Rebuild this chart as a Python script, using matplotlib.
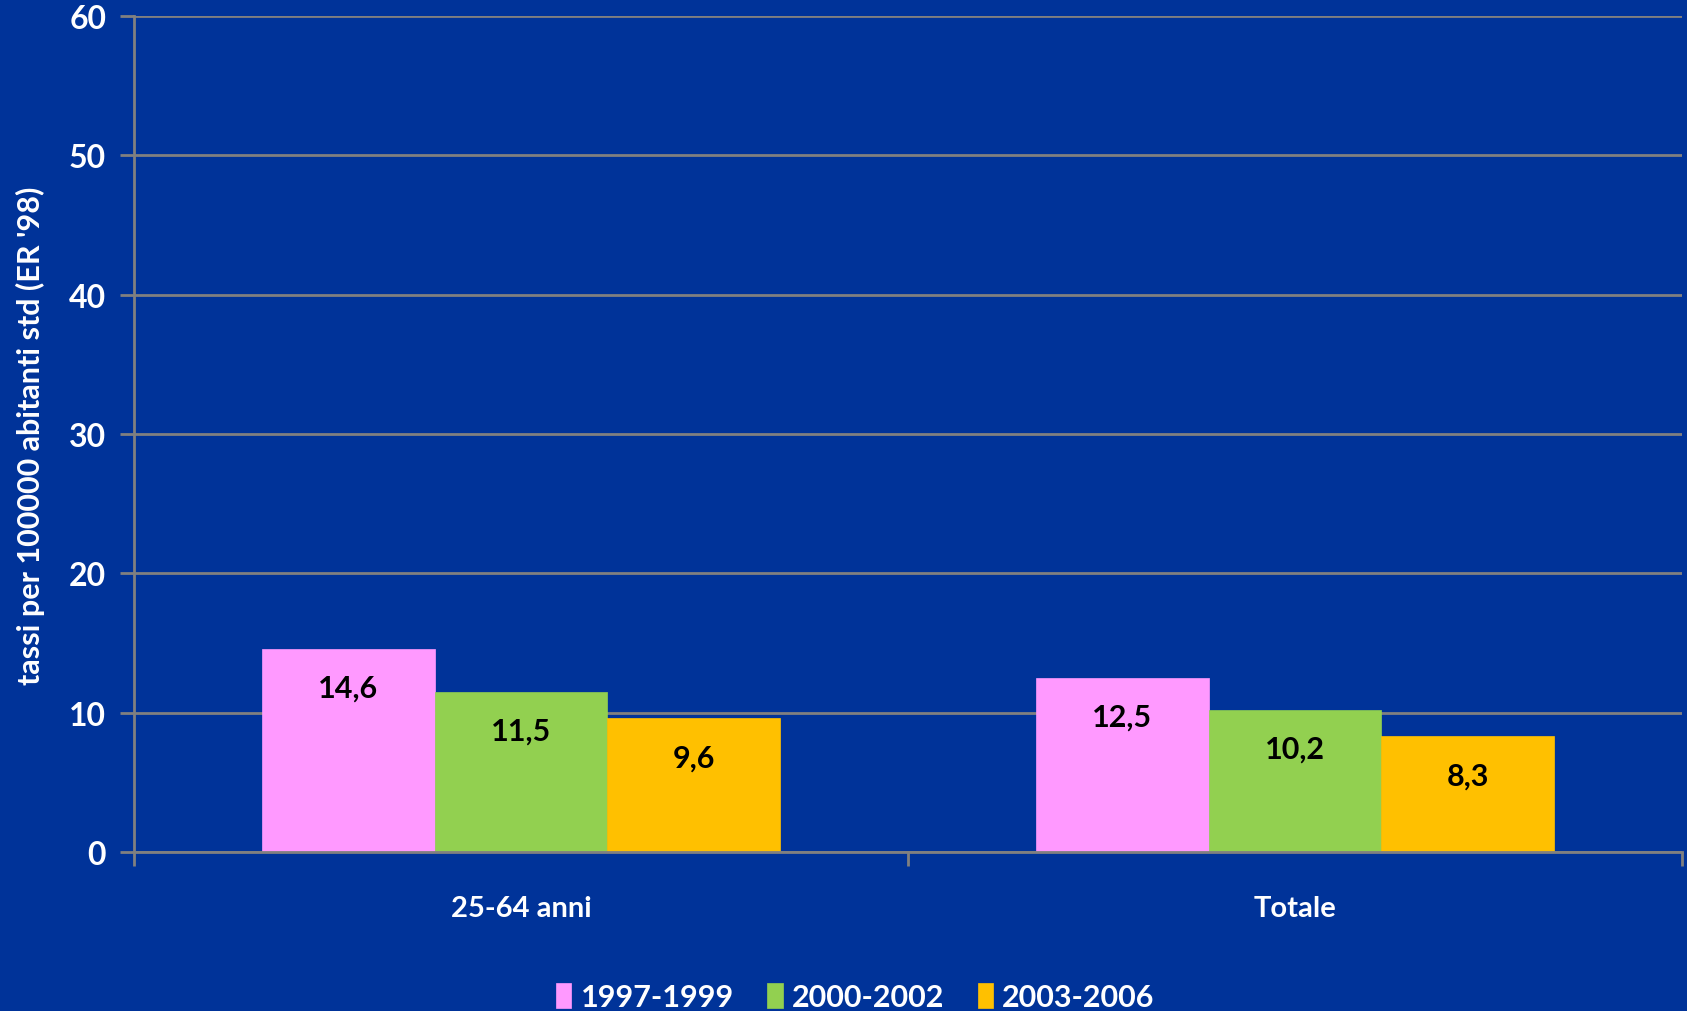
import matplotlib
matplotlib.use("Agg")
import matplotlib.pyplot as plt
import numpy as np

categories = ["25-64 anni", "Totale"]
series_names = ["1997-1999", "2000-2002", "2003-2006"]
values_1997_1999 = [14.6, 12.5]
values_2000_2002 = [11.5, 10.2]
values_2003_2006 = [9.6, 8.3]
series_values = [values_1997_1999, values_2000_2002, values_2003_2006]
colors = ["#FF99FF", "#92D050", "#FFC000"]
y_ticks = [0, 10, 20, 30, 40, 50, 60]
ylabel = "tassi per 100000 abitanti std (ER '98)"

BG = "#003399"
GRID = "#808080"
plt.rcParams['font.family'] = ['Lato', 'DejaVu Sans']
plt.rcParams['font.weight'] = 'bold'

fig = plt.figure(figsize=(16.87, 10.12), dpi=100, facecolor=BG)
ax = fig.add_axes([0.0794, 0.157, 0.9176, 0.8262])
ax.set_facecolor(BG)

x = np.arange(len(categories))
width = 0.223
for i, (name, vals, c) in enumerate(zip(series_names, series_values, colors)):
    pos = x + (i - 1) * width
    bars = ax.bar(pos, vals, width=width, color=c, label=name, zorder=3,
                  edgecolor=c, linewidth=0.5)
    for b, v in zip(bars, vals):
        ax.annotate(f"{v:.1f}".replace(".", ","),
                    xy=(b.get_x() + b.get_width() / 2, v),
                    xytext=(0, -28), textcoords="offset points",
                    ha="center", va="center", fontsize=22, fontweight="bold",
                    color="black", zorder=4)

ax.set_xlim(-0.5, len(categories) - 0.5)
ax.set_ylim(0, 60)
ax.set_yticks(y_ticks)
ax.set_yticklabels([str(t) for t in y_ticks], fontsize=23, fontweight="bold", color="white")
ax.yaxis.grid(True, color=GRID, linewidth=2, zorder=0)
ax.set_axisbelow(True)
ax.tick_params(axis="y", length=10, width=2, color=GRID, pad=10)

ax.set_xticks(x)
ax.set_xticklabels(categories, fontsize=21, fontweight="bold", color="white")
ax.tick_params(axis="x", which="major", length=0, pad=31)
ax.set_xticks(np.arange(-0.5, len(categories), 1.0), minor=True)
ax.tick_params(axis="x", which="minor", length=10, width=2, color=GRID)

for s in ["top", "right"]:
    ax.spines[s].set_visible(False)
for s in ["left", "bottom"]:
    ax.spines[s].set_color(GRID)
    ax.spines[s].set_linewidth(2)
    ax.spines[s].set_zorder(5)

fig.text(0.018, 0.569, ylabel, rotation=90, ha="center", va="center",
         fontsize=22, fontweight="bold", color="white")

leg = fig.legend(loc="center", bbox_to_anchor=(0.507, 0.014), ncol=3, frameon=False,
                 fontsize=22, handlelength=0.5, handleheight=0.9, handletextpad=0.3,
                 columnspacing=1.1)
for t in leg.get_texts():
    t.set_color("white")
    t.set_fontweight("bold")

fig.savefig("out.png", dpi=100, facecolor=BG)
